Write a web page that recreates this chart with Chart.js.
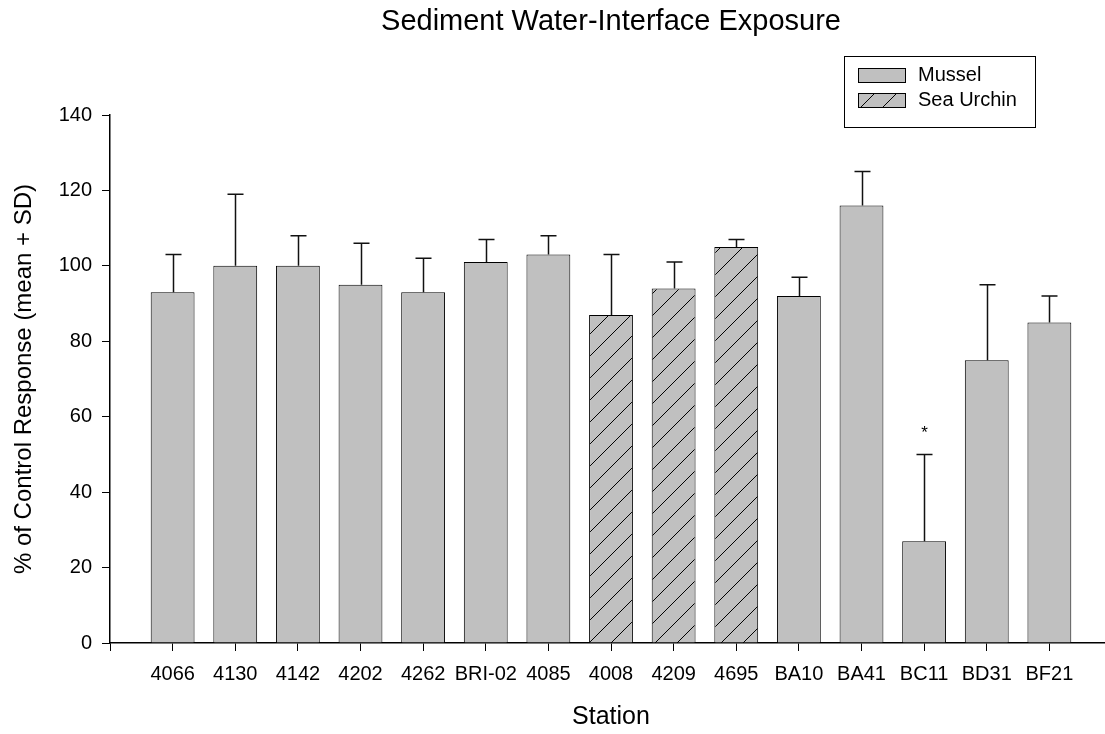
<!DOCTYPE html>
<html>
<head>
<meta charset="utf-8">
<script src="https://cdn.jsdelivr.net/npm/chart.js@4/dist/chart.umd.min.js"></script>
<style>
  html, body { margin: 0; padding: 0; background: #fff; overflow: hidden; }
  #wrap { width: 1112px; height: 734px; }
</style>
</head>
<body>
<div id="wrap"><canvas id="c" width="1112" height="734"></canvas></div>
<script>
// ---- data ----
const categories = ['4066','4130','4142','4202','4262','BRI-02','4085','4008','4209','4695','BA10','BA41','BC11','BD31','BF21'];
const species    = ['Mussel','Mussel','Mussel','Mussel','Mussel','Mussel','Mussel','Sea Urchin','Sea Urchin','Sea Urchin','Mussel','Mussel','Mussel','Mussel','Mussel'];
const means      = [93, 100, 100, 95, 93, 101, 103, 87, 94, 105, 92, 116, 27, 75, 85];
const sds        = [10, 19, 8, 11, 9, 6, 5, 16, 7, 2, 5, 9, 23, 20, 7];
const marks      = ['', '', '', '', '', '', '', '', '', '', '', '', '*', '', ''];
const seriesNames = ['Mussel', 'Sea Urchin'];
const yTicks = [0, 20, 40, 60, 80, 100, 120, 140];

const FONT = "'Liberation Sans', Arial, Helvetica, sans-serif";
const GREY = '#c0c0c0';

function makeHatch() {
  const s = 22;
  const cv = document.createElement('canvas');
  cv.width = s; cv.height = s;
  const g = cv.getContext('2d');
  g.fillStyle = GREY;
  g.fillRect(0, 0, s, s);
  g.strokeStyle = '#000';
  g.lineWidth = 1;
  g.beginPath();
  g.moveTo(-2, s + 2); g.lineTo(s + 2, -2);
  g.moveTo(-2, 2); g.lineTo(2, -2);
  g.moveTo(s - 2, s + 2); g.lineTo(s + 2, s - 2);
  g.stroke();
  return g.createPattern(cv, 'repeat');
}
const hatch = makeHatch();
const fills = { 'Mussel': GREY, 'Sea Urchin': hatch };

const datasets = seriesNames.map(name => ({
  label: name,
  data: categories.map((c, i) => species[i] === name ? { x: i + 1, y: means[i], sd: sds[i], mark: marks[i] } : null).filter(Boolean),
  backgroundColor: fills[name],
  borderColor: '#000',
  borderWidth: 1,
  borderSkipped: 'bottom',
  grouped: false,
  categoryPercentage: 1,
  barPercentage: 0.70
}));

const errorBars = {
  id: 'errorBars',
  afterDatasetsDraw(chart) {
    const ctx = chart.ctx;
    const yScale = chart.scales.y;
    ctx.save();
    ctx.strokeStyle = '#111';
    ctx.lineWidth = 1.5;
    chart.data.datasets.forEach((ds, di) => {
      const meta = chart.getDatasetMeta(di);
      meta.data.forEach((el, j) => {
        const p = ds.data[j];
        const top = yScale.getPixelForValue(p.y + p.sd);
        const x = Math.round(el.x) + 0.5;
        ctx.beginPath();
        ctx.moveTo(x, el.y);
        ctx.lineTo(x, top);
        ctx.moveTo(x - 8, top);
        ctx.lineTo(x + 8, top);
        ctx.stroke();
        if (p.mark) {
          ctx.fillStyle = '#000';
          ctx.font = '17px ' + FONT;
          ctx.textAlign = 'center';
          ctx.textBaseline = 'middle';
          ctx.fillText(p.mark, x, top - 21);
        }
      });
    });
    ctx.restore();
  }
};

const boxLegend = {
  id: 'boxLegend',
  afterDraw(chart) {
    const ctx = chart.ctx;
    ctx.save();
    ctx.strokeStyle = '#000';
    ctx.lineWidth = 1;
    ctx.strokeRect(844.5, 56.5, 191, 71);
    const rows = [75, 100];
    chart.data.datasets.forEach((ds, i) => {
      const cy = rows[i];
      ctx.fillStyle = ds.backgroundColor;
      ctx.fillRect(858, cy - 7, 47, 14);
      ctx.strokeStyle = '#000';
      ctx.strokeRect(858.5, cy - 6.5, 47, 14);
      ctx.fillStyle = '#000';
      ctx.font = '20px ' + FONT;
      ctx.textAlign = 'left';
      ctx.textBaseline = 'middle';
      ctx.fillText(ds.label, 918, cy);
    });
    ctx.restore();
  }
};

new Chart(document.getElementById('c'), {
  type: 'bar',
  data: { datasets },
  plugins: [errorBars, boxLegend],
  options: {
    responsive: false,
    animation: false,
    devicePixelRatio: 1,
    layout: { padding: 0 },
    plugins: {
      legend: { display: false },
      tooltip: { enabled: false },
      title: {
        display: true,
        text: 'Sediment Water-Interface Exposure',
        fullSize: false,
        color: '#000',
        font: { family: FONT, size: 29, weight: 'normal' },
        padding: { top: 5, bottom: 115 - 5 - 29 * 1.2 }
      }
    },
    scales: {
      x: {
        type: 'linear',
        min: 0,
        max: 16,
        offset: false,
        afterFit: s => { s.height = 91; },
        afterBuildTicks: s => { s.ticks = Array.from({ length: 16 }, (_, i) => ({ value: i })); },
        ticks: {
          autoSkip: false,
          maxRotation: 0,
          padding: 11,
          color: '#000',
          font: { family: FONT, size: 20 },
          callback: v => (v >= 1 && v <= categories.length) ? categories[v - 1] : ''
        },
        grid: { display: true, drawOnChartArea: false, drawTicks: true, tickLength: 8, color: '#000', offset: false },
        border: { display: true, color: '#000', width: 1.5 },
        title: {
          display: true,
          text: 'Station',
          color: '#000',
          font: { family: FONT, size: 25 },
          padding: { top: 0, bottom: 2 }
        }
      },
      y: {
        min: 0,
        max: 140,
        afterFit: s => { s.width = 110; },
        afterBuildTicks: s => { s.ticks = yTicks.map(v => ({ value: v })); },
        ticks: {
          padding: 10,
          color: '#000',
          font: { family: FONT, size: 20 }
        },
        grid: { display: true, drawOnChartArea: false, drawTicks: true, tickLength: 8, color: '#000' },
        border: { display: true, color: '#000', width: 1.5 },
        title: {
          display: true,
          text: '% of Control Response (mean + SD)',
          color: '#000',
          font: { family: FONT, size: 24 },
          padding: { top: 10, bottom: 0 }
        }
      }
    }
  }
});
</script>
</body>
</html>
